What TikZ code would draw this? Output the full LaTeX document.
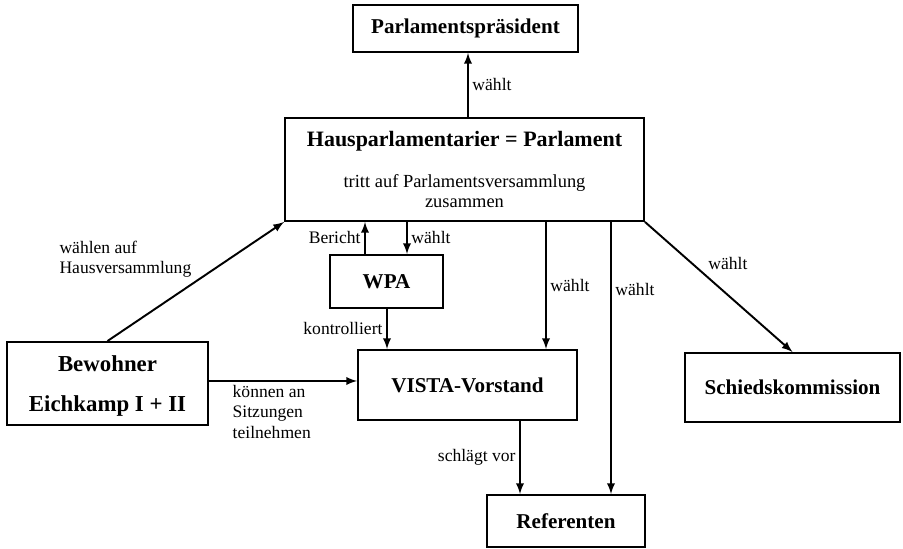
\documentclass[tikz,border=0pt]{standalone}
\usepackage{fontspec}
\setmainfont{Liberation Serif}
\usetikzlibrary{calc}

\newcommand{\subfont}{\mdseries\fontsize{10.5}{11.5}\selectfont}

\begin{document}
\begin{tikzpicture}[
    box/.style = {draw, line width=1.1pt, inner sep=0pt, align=center,
      font=\fontsize{12}{14}\selectfont\bfseries},
    lbl/.style = {font=\fontsize{10}{11.5}\selectfont, inner sep=2pt},
    arr/.style = {-latex, line width=1.1pt}
  ]
  \useasboundingbox (0cm, 0cm) rectangle (18.06cm, 10.98cm);

  \node [box, minimum width=4.5cm, minimum height=0.94cm] (praes)
    at (9.31cm, 10.41cm) {Parlamentspräsident};
  \node [box, minimum width=7.18cm, minimum height=2.06cm] (parl)
    at (9.29cm, 7.59cm)
    {{\fontsize{12.5}{14}\selectfont Hausparlamentarier = Parlament}\\[8.8pt]
     {\subfont tritt auf Parlamentsversammlung}\\[-2.6pt]
     {\subfont zusammen}};
  \node [box, minimum width=2.26cm, minimum height=1.06cm] (wpa)
    at (7.73cm, 5.35cm) {WPA};
  \node [box, minimum width=4.38cm, minimum height=1.40cm] (vista)
    at (9.35cm, 3.28cm) {VISTA-Vorstand};
  \node [box, minimum width=4.02cm, minimum height=1.66cm, text depth=0pt,
    font=\fontsize{13}{15}\selectfont\bfseries] (bew)
    at (2.15cm, 3.31cm) {Bewohner\\[7.5pt]Eichkamp I + II};
  \node [box, minimum width=4.30cm, minimum height=1.38cm] (schied)
    at (15.85cm, 3.23cm) {Schiedskommission};
  \node [box, minimum width=3.16cm, minimum height=1.04cm] (ref)
    at (11.32cm, 0.56cm) {Referenten};

  % positions of the straight arrows
  \coordinate (xPraes) at (9.36cm, 0cm);
  \coordinate (xBericht) at (7.30cm, 0cm);
  \coordinate (xWpa) at (8.14cm, 0cm);
  \coordinate (xKontr) at (7.74cm, 0cm);
  \coordinate (xVista) at (10.92cm, 0cm);
  \coordinate (xRef) at (12.22cm, 0cm);
  \coordinate (xVor) at (10.40cm, 0cm);
  \coordinate (ySitz) at (0cm, 3.36cm);

  \draw [arr] (parl.north -| xPraes) -- (praes.south -| xPraes)
    node [lbl, midway, right] {wählt};
  \draw [arr] (bew.north) -- (parl.south west)
    node [lbl, midway, above left, align=left] {wählen auf\\Hausversammlung};
  \draw [arr] (wpa.north -| xBericht) -- (parl.south -| xBericht)
    node [lbl, midway, left] {Bericht};
  \draw [arr] (parl.south -| xWpa) -- (wpa.north -| xWpa)
    node [lbl, midway, right] {wählt};
  \draw [arr] (wpa.south -| xKontr) -- (vista.north -| xKontr)
    node [lbl, midway, left] {kontrolliert};
  \draw [arr] (bew.east |- ySitz) -- (vista.west |- ySitz)
    node [lbl, pos=0.13, below right, align=left] {können an\\Sitzungen\\teilnehmen};
  \draw [arr] (parl.south -| xVista) -- (vista.north -| xVista)
    node [lbl, midway, right] {wählt};
  \draw [arr] (parl.south -| xRef) -- (ref.north -| xRef)
    node [lbl, pos=0.25, right] {wählt};
  \draw [arr] (parl.south east) -- (schied.north)
    node [lbl, pos=0.4, above right] {wählt};
  \draw [arr] (vista.south -| xVor) -- (ref.north -| xVor)
    node [lbl, midway, left] {schlägt vor};
\end{tikzpicture}
\end{document}
